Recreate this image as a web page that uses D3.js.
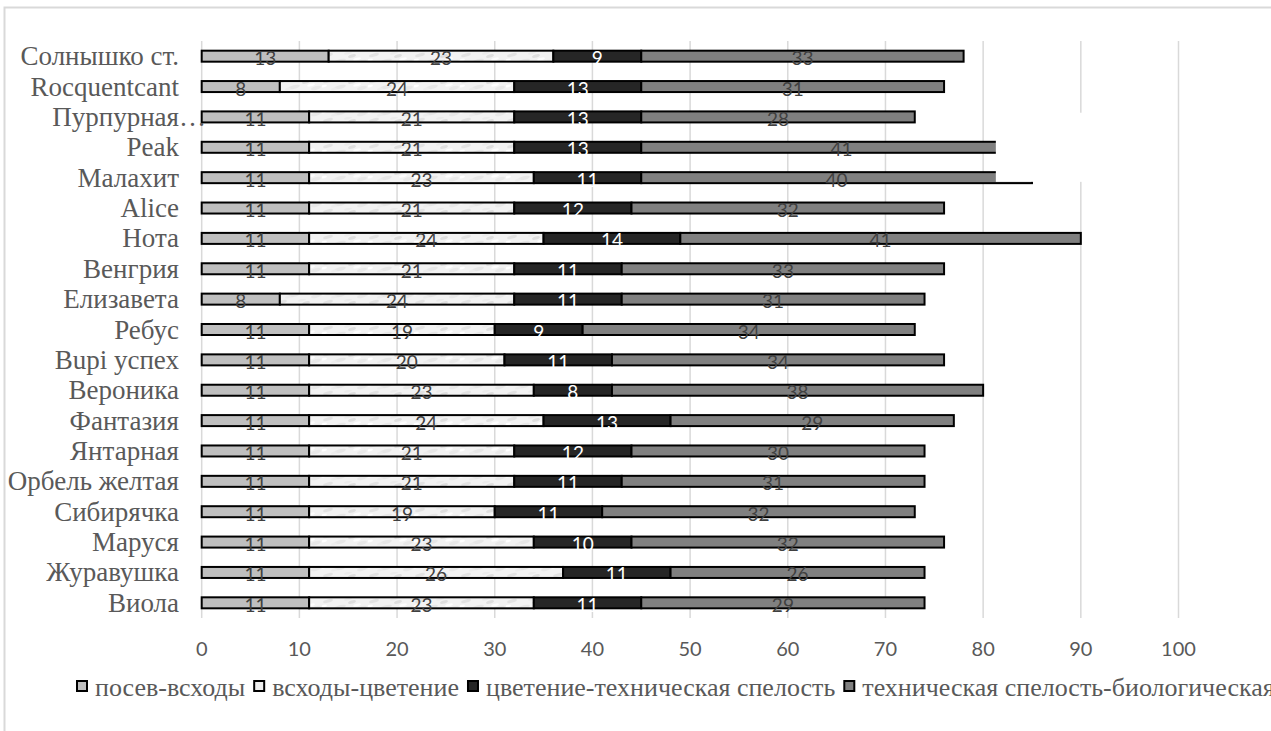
<!DOCTYPE html>
<html>
<head>
<meta charset="utf-8">
<script src="https://cdn.jsdelivr.net/npm/d3@7"></script>
<style>
  html, body { margin: 0; padding: 0; background: #fff; }
  svg { display: block; }
  .serif { font-family: "Liberation Serif", "Times New Roman", Tinos, "DejaVu Serif", serif; }
  .sans { font-family: Lato, "Open Sans", "Liberation Sans", sans-serif; }
</style>
</head>
<body>
<svg id="chart" width="1271" height="731"></svg>
<script>
// ---------------- data ----------------
const categories = [
  "Солнышко ст.", "Rocquentcant", "Пурпурная…", "Peak", "Малахит", "Alice",
  "Нота", "Венгрия", "Елизавета", "Ребус", "Bupi успех", "Вероника",
  "Фантазия", "Янтарная", "Орбель желтая", "Сибирячка", "Маруся",
  "Журавушка", "Виола"
];
const seriesNames = [
  "посев-всходы",
  "всходы-цветение",
  "цветение-техническая спелость",
  "техническая спелость-биологическая спелость"
];
const sowingToSprouts   = [13, 8, 11, 11, 11, 11, 11, 11, 8, 11, 11, 11, 11, 11, 11, 11, 11, 11, 11];
const sproutsToBloom    = [23, 24, 21, 21, 23, 21, 24, 21, 24, 19, 20, 23, 24, 21, 21, 19, 23, 26, 23];
const bloomToTechnical  = [9, 13, 13, 13, 11, 12, 14, 11, 11, 9, 11, 8, 13, 12, 11, 11, 10, 11, 11];
const technicalToBio    = [33, 31, 28, 41, 40, 32, 41, 33, 31, 34, 34, 38, 29, 30, 31, 32, 32, 26, 29];
const xTicks = [0, 10, 20, 30, 40, 50, 60, 70, 80, 90, 100];

// ---------------- setup ----------------
const W = 1271, H = 731;
const svg = d3.select("#chart");
svg.append("rect").attr("width", W).attr("height", H).attr("fill", "#fff");

// outer chart frame (only top & left visible in the reference)
svg.append("rect")
  .attr("x", 4.5).attr("y", 7.5).attr("width", W + 20).attr("height", H + 20)
  .attr("fill", "none").attr("stroke", "#d9d9d9").attr("stroke-width", 2);

const plot = { left: 201.7, right: 1178.5, top: 41, bottom: 618 };
const x = d3.scaleLinear().domain([0, 100]).range([plot.left, plot.right]);
const y = d3.scaleBand().domain(categories).range([plot.top, plot.bottom]).padding(0);
const barH = 11;
const cy = c => y(c) + y.bandwidth() / 2;

// texture pattern for "всходы-цветение"
const defs = svg.append("defs");
const pat = defs.append("pattern").attr("id", "tex").attr("patternUnits", "userSpaceOnUse")
  .attr("width", 46).attr("height", 13);
pat.append("rect").attr("width", 46).attr("height", 13).attr("fill", "#f2f2f2");
[[6,3,5,1.6,"#e2e2e2"],[18,9,6,1.8,"#e6e6e6"],[30,4,4,1.5,"#dedede"],[40,10,5,1.7,"#e8e8e8"],
 [12,11,3,1.2,"#ececec"],[26,1,4,1.2,"#ebebeb"],[2,8,3,1.3,"#ffffff"],[35,7,4,1.4,"#fdfdfd"]]
  .forEach(([px,py,rx,ry,c]) => pat.append("ellipse").attr("cx",px).attr("cy",py).attr("rx",rx).attr("ry",ry)
    .attr("fill",c).attr("transform",`rotate(-15 ${px} ${py})`));

const fills = ["#bfbfbf", "url(#tex)", "#262626", "#808080"];
const labelColors = ["#404040", "#404040", "#ffffff", "#404040"];
const legendFills = ["#bfbfbf", "#efefef", "#262626", "#808080"];

// gridlines
svg.append("g").selectAll("line").data(xTicks).join("line")
  .attr("x1", d => x(d)).attr("x2", d => x(d))
  .attr("y1", plot.top).attr("y2", plot.bottom)
  .attr("stroke", "#d9d9d9").attr("stroke-width", 1.5);

// stack
const rows = categories.map((c, i) => ({
  cat: c, v: [sowingToSprouts[i], sproutsToBloom[i], bloomToTechnical[i], technicalToBio[i]]
}));
const stack = d3.stack().keys([0, 1, 2, 3]).value((d, k) => d.v[k]);
const layers = stack(rows);

const gBars = svg.append("g");
layers.forEach((layer, k) => {
  gBars.append("g").selectAll("rect").data(layer).join("rect")
    .attr("x", d => x(d[0])).attr("width", d => x(d[1]) - x(d[0]))
    .attr("y", d => cy(d.data.cat) - barH / 2).attr("height", barH)
    .attr("fill", fills[k]).attr("stroke", "#000").attr("stroke-width", 2);
});

// occluding white patch present in the reference (over Peak / Малахит ends)
const maskFrom = 81.3, maskTo = 95;
svg.append("rect")
  .attr("x", x(maskFrom)).attr("width", x(maskTo) - x(maskFrom))
  .attr("y", cy("Пурпурная…") - 4.2)
  .attr("height", (cy("Малахит") + 4.2) - (cy("Пурпурная…") - 4.2))
  .attr("fill", "#fff");

// data labels
const gLab = svg.append("g").attr("class", "sans").style("font-size", "19px");
layers.forEach((layer, k) => {
  gLab.append("g").selectAll("text").data(layer).join("text")
    .attr("x", d => x((d[0] + d[1]) / 2)).attr("y", d => cy(d.data.cat) + 1.5)
    .attr("text-anchor", "middle").attr("dominant-baseline", "central")
    .attr("fill", labelColors[k]).text(d => d.data.v[k]);
});

// category labels
const gCat = svg.append("g").attr("class", "serif").style("font-size", "27px").attr("fill", "#595959");
categories.forEach(c => {
  const t = gCat.append("text").attr("y", cy(c)).attr("dominant-baseline", "central")
    .attr("text-anchor", "end").text(c);
  let xr = 179;
  if (c.endsWith("…")) {
    const probe = gCat.append("text").text("…");
    xr += probe.node().getComputedTextLength();
    probe.remove();
  }
  t.attr("x", xr);
});

// x tick labels
svg.append("g").attr("class", "sans").style("font-size", "20px").attr("fill", "#595959")
  .selectAll("text").data(xTicks).join("text")
  .attr("x", d => x(d)).attr("y", 648).attr("text-anchor", "middle").attr("dominant-baseline", "central")
  .text(d => d);

// legend
const gLeg = svg.append("g").attr("class", "serif").style("font-size", "26px").attr("fill", "#595959");
let lx = 76;
const ly = 687;
seriesNames.forEach((name, k) => {
  gLeg.append("rect").attr("x", lx + 1).attr("y", ly - 6).attr("width", 10).attr("height", 10)
    .attr("fill", legendFills[k]).attr("stroke", "#000").attr("stroke-width", 2);
  const t = gLeg.append("text").attr("x", lx + 19).attr("y", ly).attr("dominant-baseline", "central").text(name);
  lx = lx + 19 + t.node().getComputedTextLength() + 8;
});
</script>
</body>
</html>
